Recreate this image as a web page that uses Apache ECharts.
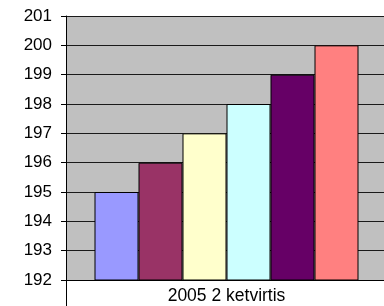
<!DOCTYPE html>
<html>
<head>
<meta charset="utf-8">
<script src="https://cdn.jsdelivr.net/npm/echarts@6/dist/echarts.min.js"></script>
<style>
  html, body { margin: 0; padding: 0; overflow: hidden; background: #fff; }
</style>
</head>
<body>
<div id="myChart" style="width:387px;height:306px;"></div>
<script>
// kategorija
var categories = ["2005 2 ketvirtis"];
// stulpeliu reiksmes (po viena kiekvienai serijai)
var seriesNames = ["s1", "s2", "s3", "s4", "s5", "s6"];
var seriesValues = [[195], [196], [197], [198], [199], [200]];
var seriesColors = ["#9999FF", "#993366", "#FFFFCC", "#CCFFFF", "#660066", "#FF8080"];
// y asies ribos
var yMin = 192, yMax = 201, yStep = 1;

var series = [];
for (var i = 0; i < seriesNames.length; i++) {
    series.push({
        name: seriesNames[i],
        type: "bar",
        data: seriesValues[i],
        barWidth: 44,
        barGap: "0%",
        itemStyle: {
            color: seriesColors[i],
            borderColor: "#000",
            borderWidth: 1
        }
    });
}

var chart = echarts.init(document.getElementById("myChart"));
chart.setOption({
    animation: false,
    grid: {
        left: 66,
        right: 0,
        top: 16,
        bottom: 26,
        show: true,
        backgroundColor: "#C0C0C0",
        borderWidth: 0
    },
    xAxis: {
        type: "category",
        data: categories,
        axisLine: { lineStyle: { color: "#000", width: 1 } },
        axisTick: { show: true, length: 26, lineStyle: { color: "#000" } },
        axisLabel: {
            margin: 7,
            fontFamily: "Liberation Sans, Arial, sans-serif",
            fontSize: 17.5,
            color: "#000"
        }
    },
    yAxis: {
        type: "value",
        min: yMin,
        max: yMax,
        interval: yStep,
        axisLine: { show: true, lineStyle: { color: "#000", width: 1 } },
        axisTick: { show: true, length: 5, lineStyle: { color: "#000" } },
        splitLine: { show: true, lineStyle: { color: "#1a1a1a", width: 1 } },
        axisLabel: {
            margin: 14,
            fontFamily: "Liberation Sans, Arial, sans-serif",
            fontSize: 17,
            color: "#000"
        }
    },
    series: series
});
</script>
</body>
</html>
